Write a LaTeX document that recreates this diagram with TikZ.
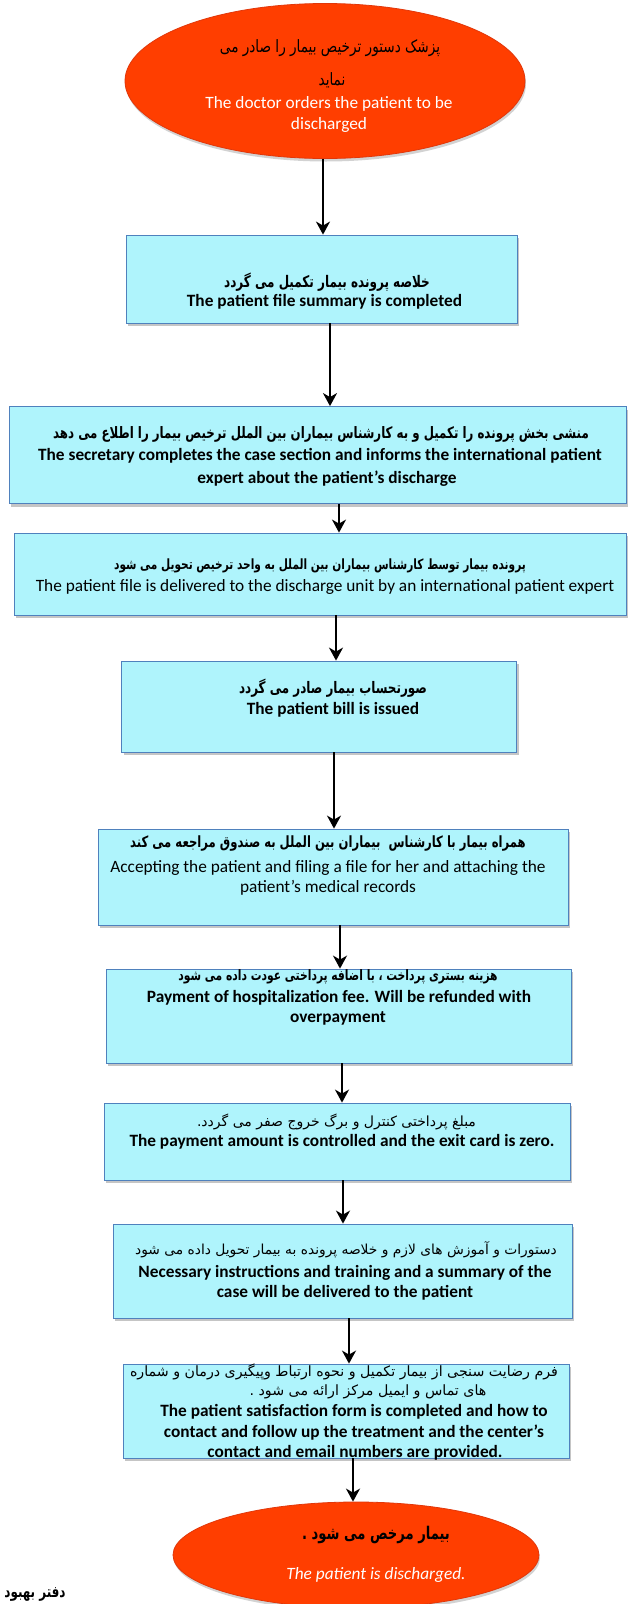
\documentclass[tikz,border=0pt]{standalone}
\usepackage{fontspec}
\setmainfont{Carlito}
\newfontfamily\persianfont[Script=Arabic]{DejaVu Sans}
\newfontfamily\persiantall[Script=Arabic, FakeStretch=0.8]{DejaVu Sans}
\newfontfamily\persianbold[Script=Arabic, FakeStretch=0.75]{DejaVu Sans Bold}
\TeXXeTstate=1
\usetikzlibrary{shadows,arrows.meta,shapes.geometric}
\definecolor{boxfill}{RGB}{175,244,252}
\definecolor{boxline}{RGB}{79,129,189}
\definecolor{ellfill}{RGB}{255,62,0}
\definecolor{elline}{RGB}{225,55,10}
\newcommand\FA[1]{\persianfont\beginR #1\endR}
\newcommand\FT[1]{\persiantall\beginR #1\endR}
\newcommand\FB[1]{\persianbold\beginR #1\endR}
\newcommand\fsz[1]{\fontsize{#1}{#1}\selectfont}
\tikzset{
  stepbox/.style={draw=boxline, line width=0.8pt, fill=boxfill, inner sep=0pt,
    drop shadow={shadow xshift=2pt, shadow yshift=-3pt, opacity=0.45}},
  ellbox/.style={ellipse, draw=elline, line width=0.8pt, fill=ellfill, inner sep=0pt,
    drop shadow={shadow xshift=1pt, shadow yshift=-3pt, opacity=0.35}},
  enb/.style={inner sep=0pt, font=\fontsize{17.3}{20}\selectfont\bfseries},
  enr/.style={inner sep=0pt, font=\fontsize{17.3}{20}\selectfont},
  fa/.style={inner sep=0pt},
  arr/.style={line width=2.8pt, -{Stealth[length=13pt,width=14pt,inset=4pt]}},
}
\begin{document}
\begin{tikzpicture}[x=1pt,y=-1pt]
\useasboundingbox (0,0) rectangle (629,1604);
\fill[white] (0,0) rectangle (629,1604);

% shapes
\node[ellbox, minimum width=400pt, minimum height=155pt] (e1) at (325,81) {};
\node[stepbox, minimum width=391pt, minimum height=88pt] (b1) at (321.5,279) {};
\node[stepbox, minimum width=617pt, minimum height=97pt] (b2) at (317.5,455) {};
\node[stepbox, minimum width=612pt, minimum height=82pt] (b3) at (320,574) {};
\node[stepbox, minimum width=395pt, minimum height=91pt] (b4) at (319,706.5) {};
\node[stepbox, minimum width=470pt, minimum height=96pt] (b5) at (333,877) {};
\node[stepbox, minimum width=465pt, minimum height=94pt] (b6) at (338.5,1016) {};
\node[stepbox, minimum width=466pt, minimum height=77pt] (b7) at (337,1141.5) {};
\node[stepbox, minimum width=459pt, minimum height=94pt] (b8) at (342.5,1271) {};
\node[stepbox, minimum width=446pt, minimum height=94pt] (b9) at (346,1411) {};
\node[ellbox, minimum width=366pt, minimum height=106pt] (e2) at (356,1555) {};

% arrows
\draw[arr] ([xshift=-2pt]e1.south) -- ([xshift=1.5pt]b1.north);
\draw[arr] ([xshift=8.5pt]b1.south) -- ([xshift=12.5pt]b2.north);
\draw[arr] ([xshift=21.5pt]b2.south) -- ([xshift=19pt]b3.north);
\draw[arr] ([xshift=16pt]b3.south) -- ([xshift=17pt]b4.north);
\draw[arr] ([xshift=15pt]b4.south) -- ([xshift=1pt]b5.north);
\draw[arr] ([xshift=7pt]b5.south) -- ([xshift=1.5pt]b6.north);
\draw[arr] ([xshift=3.5pt]b6.south) -- ([xshift=5pt]b7.north);
\draw[arr] ([xshift=6pt]b7.south) -- ([xshift=0.5pt]b8.north);
\draw[arr] ([xshift=6.5pt]b8.south) -- ([xshift=3pt]b9.north);
\draw[arr] ([xshift=7pt]b9.south) -- ([xshift=-3pt]e2.north);

% texts
\node[fa, font=\fsz{17}] (t1a) at (330,48) {\FT{پزشک دستور ترخیص بیمار را صادر می}};
\node[fa, font=\fsz{17}] (t1b) at (332,80) {\FT{نماید}};
\node[inner sep=0pt, text=white, font=\fontsize{17.3}{20}\selectfont] (t1c) at (329,104) {The doctor orders the patient to be};
\node[inner sep=0pt, text=white, font=\fontsize{17.3}{20}\selectfont] (t1d) at (329,125) {discharged};

\node[fa, font=\fsz{16}] (t2a) at (327,282) {\FB{خلاصه پرونده بیمار تکمیل می گردد}};
\node[enb] (t2b) at (324.5,302) {The patient file summary is completed};

\node[fa, font=\fsz{15.75}] (t3a) at (321,434) {\FB{منشی بخش پرونده را تکمیل و به کارشناس بیماران بین الملل ترخیص بیمار را اطلاع می دهد}};
\node[enb] (t3b) at (320,456) {The secretary completes the case section and informs the international patient};
\node[enb] (t3c) at (327,479) {expert about the patient's discharge};

\node[fa, font=\fsz{14.1}] (t4a) at (320,566) {\FB{پرونده بیمار توسط کارشناس بیماران بین الملل به واحد ترخیص تحویل می شود}};
\node[enr] (t4b) at (325,587) {The patient file is delivered to the discharge unit by an international patient expert};

\node[fa, font=\fsz{15.9}] (t5a) at (333,688) {\FB{صورتحساب بیمار صادر می گردد}};
\node[enb] (t5b) at (333,710) {The patient bill is issued};

\node[fa, font=\fsz{15.5}] (t6a) at (328,843) {\FB{همراه بیمار با کارشناس \ بیماران بین الملل به صندوق مراجعه می کند}};
\node[enr] (t6b) at (328,868) {Accepting the patient and filing a file for her and attaching the};
\node[enr] (t6c) at (328,888) {patient's medical records};

\node[fa, font=\fsz{14.3}] (t7a) at (338,977) {\FB{هزینه بستری پرداخت ، با اضافه پرداختی عودت داده می شود}};
\node[enb] (t7b) at (339,998) {Payment of hospitalization fee. Will be refunded with};
\node[enb] (t7c) at (338,1018) {overpayment};

\node[fa, font=\fsz{14}] (t8a) at (336.5,1122) {\FA{مبلغ پرداختی کنترل و برگ خروج صفر می گردد.}};
\node[enb] (t8b) at (342,1142) {The payment amount is controlled and the exit card is zero.};

\node[fa, font=\fsz{13.8}] (t9a) at (346,1250) {\FA{دستورات و آموزش های لازم و خلاصه پرونده به بیمار تحویل داده می شود}};
\node[enb] (t9b) at (345,1273) {Necessary instructions and training and a summary of the};
\node[enb] (t9c) at (345,1293) {case will be delivered to the patient};

\node[fa, font=\fsz{14.2}] (t10a) at (344,1372) {\FA{فرم رضایت سنجی از بیمار تکمیل و نحوه ارتباط وپیگیری درمان و شماره}};
\node[fa, font=\fsz{14.2}] (t10b) at (368,1392) {\FA{های تماس و ایمیل مرکز ارائه می شود .}};
\node[enb] (t10c) at (354,1412) {The patient satisfaction form is completed and how to};
\node[enb] (t10d) at (354,1433) {contact and follow up the treatment and the center's};
\node[enb] (t10e) at (355,1453) {contact and email numbers are provided.};

\node[fa, font=\fsz{17.5}] (t11a) at (376,1535) {\FB{بیمار مرخص می شود .}};
\node[inner sep=0pt, text=white, font=\fontsize{17.3}{20}\selectfont\itshape] (t11b) at (376,1575) {The patient is discharged.};

\node[fa, font=\fsz{15.9}] (ft) at (35,1594) {\FB{دفتر بهبود}};
\end{tikzpicture}
\end{document}
